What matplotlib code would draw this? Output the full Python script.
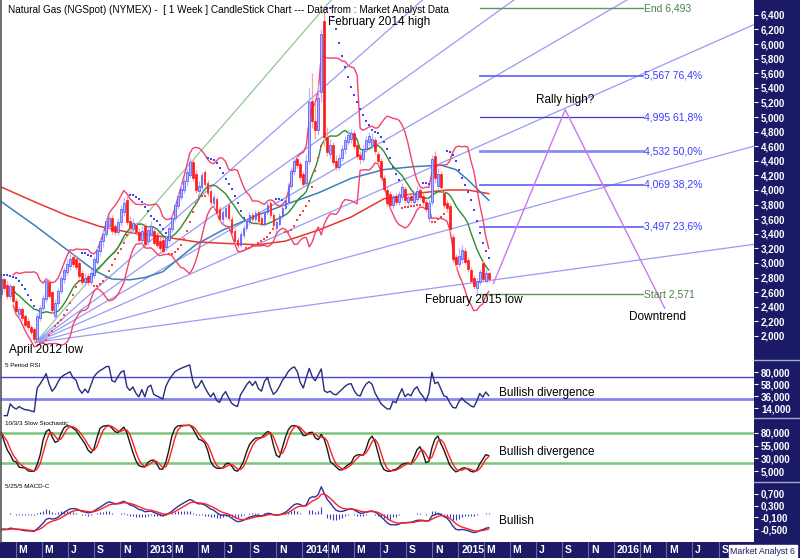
import numpy as np
import pandas as pd
import matplotlib
matplotlib.use('Agg')
import matplotlib.pyplot as plt
import matplotlib.dates as mdates
from matplotlib.patches import Rectangle
from matplotlib.lines import Line2D

plt.rcParams['font.family'] = ['Liberation Sans', 'DejaVu Sans']

NAVY = '#1a1a66'
W, H = 800, 558

# weekly candles, first week ends 2012-01-27
first_week = '2012-01-27'
opens = [2.58, 2.78, 2.70, 2.55, 2.68, 2.48, 2.30, 2.37, 2.28, 2.20,
         2.12, 2.10, 1.96, 2.24, 2.38, 2.50, 2.74, 2.60, 2.28, 2.45,
         2.62, 2.78, 2.88, 2.96, 3.08, 3.06, 3.00, 2.86, 2.74, 2.82,
         2.74, 2.84, 3.02, 3.16, 3.30, 3.40, 3.50, 3.62, 3.50, 3.42,
         3.56, 3.70, 3.86, 3.58, 3.46, 3.52, 3.42, 3.32, 3.50, 3.30,
         3.40, 3.44, 3.38, 3.30, 3.32, 3.22, 3.32, 3.46, 3.62, 3.78,
         3.90, 4.00, 4.12, 4.20, 4.38, 4.22, 3.98, 4.04, 4.24, 4.10,
         3.98, 3.82, 3.88, 3.74, 3.60, 3.64, 3.80, 3.60, 3.44, 3.32,
         3.24, 3.38, 3.48, 3.56, 3.66, 3.60, 3.70, 3.62, 3.54, 3.70,
         3.82, 3.66, 3.48, 3.54, 3.64, 3.76, 3.84, 4.06, 4.26, 4.42,
         4.36, 4.22, 4.10, 4.40, 5.22, 4.95, 4.82, 5.34, 6.32, 4.72,
         4.50, 4.62, 4.40, 4.32, 4.44, 4.56, 4.66, 4.70, 4.78, 4.62,
         4.48, 4.42, 4.56, 4.66, 4.62, 4.68, 4.50, 4.40, 4.16, 4.00,
         3.94, 3.80, 3.92, 3.84, 3.90, 4.02, 3.84, 3.92, 3.84, 3.88,
         4.00, 3.92, 3.84, 3.62, 3.84, 4.46, 4.06, 4.22, 3.96, 3.82,
         3.78, 3.36, 3.08, 2.98, 3.06, 3.16, 3.04, 2.90, 2.80, 2.66,
         2.74, 3.00, 2.76, 2.86]
highs = [2.84, 2.80, 2.76, 2.72, 2.70, 2.52, 2.40, 2.40, 2.30, 2.24,
         2.15, 2.12, 2.32, 2.42, 2.56, 2.80, 2.78, 2.62, 2.50, 2.66,
         2.84, 2.95, 3.05, 3.12, 3.14, 3.10, 3.05, 2.90, 2.86, 2.86,
         2.92, 3.10, 3.22, 3.34, 3.45, 3.62, 3.66, 3.66, 3.54, 3.62,
         3.80, 3.90, 3.93, 3.64, 3.62, 3.56, 3.48, 3.50, 3.55, 3.50,
         3.58, 3.48, 3.42, 3.36, 3.36, 3.38, 3.52, 3.66, 3.84, 3.96,
         4.08, 4.16, 4.30, 4.44, 4.42, 4.28, 4.12, 4.24, 4.28, 4.14,
         4.02, 3.94, 3.90, 3.78, 3.74, 3.80, 3.84, 3.64, 3.48, 3.36,
         3.44, 3.52, 3.62, 3.70, 3.70, 3.72, 3.72, 3.66, 3.74, 3.86,
         3.88, 3.70, 3.60, 3.68, 3.80, 3.90, 4.10, 4.30, 4.46, 4.46,
         4.40, 4.26, 4.50, 5.40, 5.60, 5.20, 5.45, 6.20, 6.49, 4.86,
         4.70, 4.66, 4.48, 4.50, 4.62, 4.74, 4.82, 4.84, 4.82, 4.66,
         4.54, 4.62, 4.74, 4.80, 4.78, 4.72, 4.54, 4.44, 4.20, 4.04,
         3.98, 3.94, 3.96, 3.98, 4.10, 4.06, 3.96, 3.96, 3.98, 4.06,
         4.04, 3.96, 3.88, 3.88, 4.48, 4.54, 4.30, 4.26, 4.00, 3.86,
         3.82, 3.40, 3.12, 3.20, 3.24, 3.20, 3.08, 2.94, 2.84, 2.80,
         2.92, 3.04, 2.92, 2.88]
lows = [2.52, 2.62, 2.50, 2.50, 2.45, 2.30, 2.24, 2.20, 2.12, 2.08,
        2.02, 1.93, 1.90, 2.20, 2.34, 2.46, 2.52, 2.32, 2.22, 2.40,
        2.58, 2.72, 2.84, 2.90, 2.95, 2.90, 2.78, 2.70, 2.68, 2.70,
        2.70, 2.80, 2.98, 3.10, 3.22, 3.36, 3.46, 3.40, 3.38, 3.38,
        3.50, 3.64, 3.52, 3.42, 3.40, 3.38, 3.28, 3.26, 3.22, 3.26,
        3.36, 3.24, 3.20, 3.16, 3.12, 3.16, 3.28, 3.42, 3.58, 3.74,
        3.86, 3.96, 4.06, 4.16, 4.12, 3.96, 3.92, 4.00, 4.04, 3.92,
        3.80, 3.76, 3.64, 3.56, 3.54, 3.60, 3.58, 3.38, 3.26, 3.20,
        3.22, 3.34, 3.44, 3.52, 3.56, 3.56, 3.54, 3.50, 3.50, 3.66,
        3.62, 3.48, 3.42, 3.50, 3.60, 3.72, 3.80, 4.02, 4.20, 4.30,
        4.14, 4.04, 4.06, 4.36, 4.85, 4.70, 4.76, 5.20, 4.60, 4.46,
        4.42, 4.34, 4.28, 4.28, 4.40, 4.50, 4.62, 4.64, 4.56, 4.42,
        4.36, 4.38, 4.52, 4.60, 4.58, 4.50, 4.34, 4.14, 3.98, 3.78,
        3.76, 3.76, 3.80, 3.80, 3.86, 3.82, 3.80, 3.82, 3.80, 3.84,
        3.86, 3.80, 3.70, 3.56, 3.80, 4.10, 4.02, 3.98, 3.76, 3.70,
        3.42, 3.02, 2.92, 2.94, 3.00, 2.98, 2.88, 2.72, 2.64, 2.571,
        2.70, 2.74, 2.72, 2.74]
closes = [2.78, 2.66, 2.55, 2.68, 2.48, 2.34, 2.37, 2.24, 2.15, 2.12,
          2.05, 1.96, 2.28, 2.38, 2.52, 2.75, 2.55, 2.36, 2.45, 2.62,
          2.80, 2.90, 2.98, 3.06, 2.98, 2.95, 2.82, 2.74, 2.80, 2.74,
          2.86, 3.05, 3.18, 3.30, 3.40, 3.58, 3.62, 3.44, 3.42, 3.56,
          3.74, 3.82, 3.56, 3.48, 3.55, 3.42, 3.32, 3.44, 3.26, 3.45,
          3.50, 3.28, 3.24, 3.20, 3.16, 3.34, 3.48, 3.62, 3.80, 3.92,
          4.02, 4.12, 4.24, 4.38, 4.16, 4.00, 4.06, 4.20, 4.08, 3.96,
          3.84, 3.90, 3.68, 3.60, 3.70, 3.76, 3.62, 3.42, 3.30, 3.24,
          3.40, 3.48, 3.58, 3.66, 3.60, 3.68, 3.58, 3.54, 3.70, 3.80,
          3.66, 3.52, 3.56, 3.64, 3.76, 3.86, 4.06, 4.26, 4.40, 4.34,
          4.18, 4.08, 4.40, 5.20, 4.95, 4.82, 5.26, 6.14, 4.72, 4.52,
          4.62, 4.38, 4.32, 4.44, 4.56, 4.68, 4.76, 4.78, 4.60, 4.46,
          4.42, 4.56, 4.68, 4.74, 4.70, 4.54, 4.40, 4.18, 4.02, 3.82,
          3.80, 3.90, 3.84, 3.94, 4.04, 3.86, 3.90, 3.86, 3.94, 3.98,
          3.90, 3.84, 3.74, 3.82, 4.42, 4.16, 4.22, 4.04, 3.80, 3.76,
          3.46, 3.06, 2.98, 3.10, 3.18, 3.02, 2.92, 2.76, 2.68, 2.76,
          2.88, 2.78, 2.86, 2.78]

# long moving averages (week index -> value)
red_ma_weeks = [0, 11, 22, 33, 44, 54, 65, 74, 86, 95, 106, 117, 128, 138, 149, 156, 163]
red_ma_vals = [4.04, 3.84, 3.65, 3.50, 3.41, 3.36, 3.29, 3.27, 3.25, 3.30, 3.45, 3.63,
               3.88, 3.95, 4.00, 4.00, 3.95]
blue_ma_weeks = [0, 11, 22, 31, 37, 43, 48, 54, 65, 74, 86, 95, 106, 117, 128, 138,
                 147, 152, 156, 163]
blue_ma_vals = [3.84, 3.52, 3.18, 2.90, 2.78, 2.77, 2.80, 2.88, 3.25, 3.45, 3.66, 3.80,
                3.96, 4.16, 4.28, 4.32, 4.34, 4.28, 4.14, 3.86]

# MACD level at the left edge of the chart (warm-up value)
macd_start = -0.55

# fibonacci fan: April 2012 low to February 2014 high
fan_low = ('2012-04-16', 1.91)
fan_high = ('2014-02-21', 6.493)
fan_ratios = [1.0, 0.764, 0.618, 0.5, 0.382, 0.236, 0.118]

# fibonacci retracement: Feb 2015 low up to Feb 2014 high
fib_start = 2.571
fib_end = 6.493
fib_ratios = [0.236, 0.382, 0.5, 0.618, 0.764]
fib_from, fib_to = '2015-02-20', '2016-03-08'

# projected path (rally then downtrend)
proj_dates = ['2015-03-24', '2015-09-08', '2016-04-28']
proj_prices = [2.72, 5.10, 2.38]

dates = pd.date_range(first_week, periods=len(closes), freq='7D')
xd = mdates.date2num(dates)
x_left = mdates.date2num(pd.Timestamp('2012-01-24'))
x_right = mdates.date2num(pd.Timestamp('2016-11-23'))

o = np.array(opens); h = np.array(highs); l = np.array(lows); c = np.array(closes)
cs = pd.Series(c)

# indicators
mid = cs.rolling(13, min_periods=5).mean()
sd = cs.rolling(13, min_periods=5).std(ddof=0)
bb_up, bb_lo = mid + 2 * sd, mid - 2 * sd


def parabolic_sar(h, l, step=0.02, max_step=0.2):
    n = len(h)
    sar = np.zeros(n)
    up = np.zeros(n, dtype=bool)
    trend_up = False
    af = step
    ep = l[0]
    sar[0] = h[0]
    for i in range(1, n):
        s = sar[i - 1] + af * (ep - sar[i - 1])
        if trend_up:
            s = min(s, l[i - 1], l[max(i - 2, 0)])
            if l[i] < s:
                trend_up, s, ep, af = False, ep, l[i], step
            elif h[i] > ep:
                ep = h[i]
                af = min(af + step, max_step)
        else:
            s = max(s, h[i - 1], h[max(i - 2, 0)])
            if h[i] > s:
                trend_up, s, ep, af = True, ep, h[i], step
            elif l[i] < ep:
                ep = l[i]
                af = min(af + step, max_step)
        sar[i] = s
        up[i] = trend_up
    return sar, up


def ema(values, span, seed):
    alpha = 2 / (span + 1)
    out = np.zeros(len(values))
    prev = seed
    for i, v in enumerate(values):
        prev = prev + alpha * (v - prev)
        out[i] = prev
    return out


sar, sar_up = parabolic_sar(h, l)

delta = cs.diff()
gain = delta.clip(lower=0).ewm(alpha=1 / 5, adjust=False).mean()
loss = (-delta.clip(upper=0)).ewm(alpha=1 / 5, adjust=False).mean()
rsi = 100 - 100 / (1 + gain / loss)

ll = pd.Series(l).rolling(10, min_periods=1).min()
hh = pd.Series(h).rolling(10, min_periods=1).max()
k_raw = 100 * (cs - ll) / (hh - ll)
k_slow = k_raw.rolling(3, min_periods=1).mean()
d_slow = k_slow.rolling(3, min_periods=1).mean()

macd = ema(c, 5, c[0]) - ema(c, 25, c[0] - macd_start)
signal = ema(macd, 5, macd_start)
hist = macd - signal

# figure layout in pixels
fig = plt.figure(figsize=(8, 5.58), dpi=100)
fig.patch.set_facecolor('white')


def px_axes(x0, y0, x1, y1):
    return fig.add_axes([x0 / W, 1 - y1 / H, (x1 - x0) / W, (y1 - y0) / H])


ax = px_axes(0, 0, 754, 360)
ax_rsi = px_axes(0, 360, 754, 418)
ax_sto = px_axes(0, 418, 754, 482)
ax_macd = px_axes(0, 482, 754, 542)
ax_band = px_axes(0, 542, 754, 558)

fig.add_artist(Rectangle((754 / W, 0), 46 / W, 1, transform=fig.transFigure,
                         color=NAVY, zorder=-1))
fig.add_artist(Rectangle((0, 0), 1, 16 / H, transform=fig.transFigure,
                         color=NAVY, zorder=-1))


def fmt_dec(v):
    return f'{v:.3f}'.replace('.', ',')


for a in (ax, ax_rsi, ax_sto, ax_macd, ax_band):
    a.set_xlim(x_left, x_right)
    for s in a.spines.values():
        s.set_visible(False)
    a.set_xticks([])
    a.yaxis.tick_right()
    a.tick_params(axis='y', colors='white', labelcolor='white', labelsize=7,
                  length=3, pad=2, direction='out')

# ---- main price panel
ax.set_ylim(1.671, 6.603)
price_ticks = np.arange(2.0, 6.41, 0.2)
ax.set_yticks(price_ticks)
ax.set_yticklabels([f'{v * 1000:,.0f}' for v in price_ticks], fontweight='bold')

t0 = mdates.date2num(pd.Timestamp(fan_low[0]))
t1 = mdates.date2num(pd.Timestamp(fan_high[0]))
for r in fan_ratios:
    slope = r * (fan_high[1] - fan_low[1]) / (t1 - t0)
    col = '#8fc98f' if r == 1.0 else '#9a9af5'
    ax.plot([t0, x_right], [fan_low[1], fan_low[1] + slope * (x_right - t0)],
            color=col, lw=0.9, zorder=1)

ax.plot(xd[red_ma_weeks], red_ma_vals, color='#e8352e', lw=1.1, zorder=2)
ax.plot(xd[blue_ma_weeks], blue_ma_vals, color='#3b7fb8', lw=1.1, zorder=2)
ax.plot(xd, mid, color='#2e8b2e', lw=1.0, zorder=2)
ax.plot(xd, bb_up, color='#f2426e', lw=1.0, zorder=2)
ax.plot(xd, bb_lo, color='#f2426e', lw=1.0, zorder=2)

ax.scatter(xd[sar_up], sar[sar_up], s=0.6, color='#ff4040', marker='s', lw=0, zorder=3)
ax.scatter(xd[~sar_up], sar[~sar_up], s=0.6, color='#4040ff', marker='s', lw=0, zorder=3)

up = c >= o
ax.vlines(xd[up], l[up], h[up], color='#b4b4ff', lw=0.9, zorder=3)
ax.vlines(xd[~up], l[~up], h[~up], color='#ff9f9f', lw=0.9, zorder=3)
bw = 4.0
ax.bar(xd[up], (c - o)[up], bottom=o[up], width=bw, color='#b8b8ff',
       edgecolor='#4a4aff', lw=0.5, zorder=4)
ax.bar(xd[~up], (o - c)[~up], bottom=c[~up], width=bw, color='#ff1a1a',
       edgecolor='#ff1a1a', lw=0.5, zorder=4)

# retracement levels
f0, f1 = mdates.date2num(pd.Timestamp(fib_from)), mdates.date2num(pd.Timestamp(fib_to))
fib_widths = {0.236: 1.3, 0.382: 1.3, 0.5: 2.0, 0.618: 0.9, 0.764: 1.3}
fib_colors = {0.236: '#6a6af2', 0.382: '#6a6af2', 0.5: '#8a8af5', 0.618: '#3a3ad0',
              0.764: '#6a6af2'}
for r in fib_ratios:
    lev = fib_start + r * (fib_end - fib_start)
    ax.plot([f0, f1], [lev, lev], color=fib_colors[r], lw=fib_widths[r], zorder=2)
    lab = f'{round(lev * 1000):,} ' + f'{r * 100:.1f}'.replace('.', ',') + '%'
    ax.text(f1 + 2, lev, lab, color='#3c3cff', fontsize=7.5, va='center', ha='left')
for lev, name in ((fib_end, 'End'), (fib_start, 'Start')):
    ax.plot([f0, f1], [lev, lev], color='#5a9a5a', lw=1.0, zorder=2)
    ax.text(f1 + 2, lev, f'{name} {round(lev * 1000):,}', color='#4a824a',
            fontsize=7.5, va='center', ha='left')

pd_num = mdates.date2num(pd.to_datetime(proj_dates))
ax.plot(pd_num, proj_prices, color='#cc77f0', lw=1.0, zorder=2)

ax.text(mdates.date2num(pd.Timestamp('2014-03-01')), 6.30, 'February 2014 high',
        fontsize=8.5, va='center', ha='left')
ax.text(mdates.date2num(pd.Timestamp('2012-02-14')), 1.81, 'April 2012 low',
        fontsize=8.5, va='center', ha='left')
ax.text(mdates.date2num(pd.Timestamp('2014-10-15')), 2.49, 'February 2015 low',
        fontsize=8.5, va='center', ha='left')
ax.text(mdates.date2num(pd.Timestamp('2015-09-09')), 5.23, 'Rally high?',
        fontsize=8.5, va='center', ha='center')
ax.text(mdates.date2num(pd.Timestamp('2016-02-04')), 2.26, 'Downtrend',
        fontsize=8.5, va='center', ha='left')

fig.text(8 / W, 1 - 10 / H,
         'Natural Gas (NGSpot) (NYMEX) -  [ 1 Week ] CandleStick Chart --- Data from : Market Analyst Data',
         fontsize=7.2, va='center', ha='left')

# ---- RSI
ax_rsi.set_ylim(-4.3, 102)
ax_rsi.axhline(70, color='#4646dc', lw=1.0)
ax_rsi.axhline(30, color='#8585f2', lw=2.0)
ax_rsi.plot(xd, rsi, color='#2b2b7e', lw=1.0)
rsi_ticks = [80, 58, 36, 14]
ax_rsi.set_yticks(rsi_ticks)
ax_rsi.set_yticklabels([fmt_dec(v) for v in rsi_ticks], fontweight='bold')
ax_rsi.text(0.006, 0.9, '5 Period RSI', transform=ax_rsi.transAxes, fontsize=4.5, va='center')
ax_rsi.text(mdates.date2num(pd.Timestamp('2015-04-07')), 41.5, 'Bullish divergence',
            fontsize=8.5, va='center')

# ---- slow stochastic
ax_sto.set_ylim(-16.7, 109.6)
ax_sto.axhline(80, color='#7cc57c', lw=1.8)
ax_sto.axhline(20, color='#7cc57c', lw=1.8)
ax_sto.plot(xd, k_slow, color='#1a1a1a', lw=1.0)
ax_sto.plot(xd, d_slow, color='#ff2020', lw=1.0)
sto_ticks = [80, 55, 30, 5]
ax_sto.set_yticks(sto_ticks)
ax_sto.set_yticklabels([fmt_dec(v) for v in sto_ticks], fontweight='bold')
ax_sto.text(0.006, 0.92, '10/3/3 Slow Stochastic', transform=ax_sto.transAxes,
            fontsize=4.5, va='center')
ax_sto.text(mdates.date2num(pd.Timestamp('2015-04-07')), 42.5, 'Bullish divergence',
            fontsize=8.5, va='center')

# ---- MACD
ax_macd.set_ylim(-0.945, 1.11)
ax_macd.vlines(xd, 0, hist, color='#3a3ac0', lw=0.8)
ax_macd.plot(xd, macd, color='#30309e', lw=1.0)
ax_macd.plot(xd, signal, color='#ff2020', lw=1.0)
macd_ticks = [0.7, 0.3, -0.1, -0.5]
ax_macd.set_yticks(macd_ticks)
ax_macd.set_yticklabels([fmt_dec(v) for v in macd_ticks], fontweight='bold')
ax_macd.text(0.006, 0.92, '5/25/5 MACD-C', transform=ax_macd.transAxes,
             fontsize=4.5, va='center')
ax_macd.text(mdates.date2num(pd.Timestamp('2015-04-07')), -0.225, 'Bullish',
             fontsize=8.5, va='center')

# ---- date band
ax_band.set_facecolor(NAVY)
ax_band.set_ylim(0, 1)
ax_band.set_yticks([])
for m in pd.date_range('2012-03-01', '2016-09-01', freq='2MS'):
    mx = mdates.date2num(m)
    lab = str(m.year) if m.month == 1 else m.strftime('%b')[0]
    ax_band.axvline(mx, color='#6a6aa6', lw=0.8)
    ax_band.annotate(lab, (mx, 0.5), xytext=(2, 0), textcoords='offset points',
                     ha='left', va='center', color='white', fontsize=7.5,
                     fontweight='bold')

# separators on the right scale and left border
for yy in (360, 418, 482):
    fig.add_artist(Line2D([754 / W, 1], [1 - yy / H] * 2, color='#a8a8cc', lw=1.0))
fig.add_artist(Line2D([0.6 / W] * 2, [16 / H, 1], color='#555555', lw=1.2))

fig.add_artist(Rectangle((729 / W, 1 - 557 / H), 68 / W, 12 / H,
                         transform=fig.transFigure, color='white', zorder=5))
fig.text(763 / W, 1 - 551 / H, 'Market Analyst 6', color=NAVY, fontsize=6.3,
         ha='center', va='center', zorder=6)

fig.savefig('out.png', dpi=100)
